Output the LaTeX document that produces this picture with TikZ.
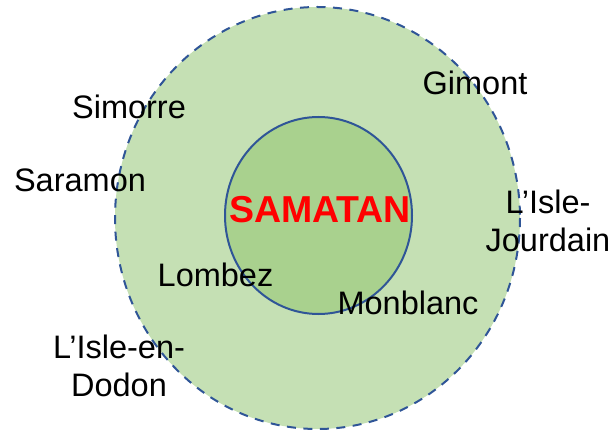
\documentclass[tikz,border=0pt]{standalone}
\usepackage{fontspec}
\setmainfont{Liberation Sans}
\definecolor{outerfill}{HTML}{C5E0B4}
\definecolor{innerfill}{HTML}{A9D18E}
\definecolor{ringblue}{HTML}{2F5597}
\definecolor{samred}{HTML}{FF0000}
\begin{document}
\begin{tikzpicture}[x=1pt,y=-1pt,
  town/.style={inner sep=0pt,anchor=base,font=\fontsize{32.5}{38}\selectfont,text=black},
  towntwo/.style={inner sep=0pt,anchor=center,align=center,font=\fontsize{32.5}{38}\selectfont,text=black},
  ring/.style={draw=ringblue,line width=2pt}]
\useasboundingbox (0,0) rectangle (613,430);
\fill[outerfill] (317.5,218) ellipse [x radius=202.5, y radius=211];
\draw[ring,dash pattern=on 9pt off 7.5pt] (317.5,218) ellipse [x radius=202.5, y radius=211];
\draw[ring,fill=innerfill] (318.5,215.5) ellipse [x radius=93.5, y radius=98.5];
\node[inner sep=0pt,anchor=base,font=\fontsize{37.5}{40}\selectfont\bfseries,text=samred] (samatan) at (320,223) {SAMATAN};
\node[town] (simorre) at (129,119) {Simorre};
\node[town] (saramon) at (80,192) {Saramon};
\node[town] (gimont) at (475,95) {Gimont};
\node[town] (lombez) at (215.5,287) {Lombez};
\node[town] (monblanc) at (408,315) {Monblanc};
\node[towntwo] (jourdain) at (548,221) {L’Isle-\\Jourdain};
\node[towntwo] (dodon) at (119,366) {L’Isle-en-\\Dodon};
\end{tikzpicture}
\end{document}
